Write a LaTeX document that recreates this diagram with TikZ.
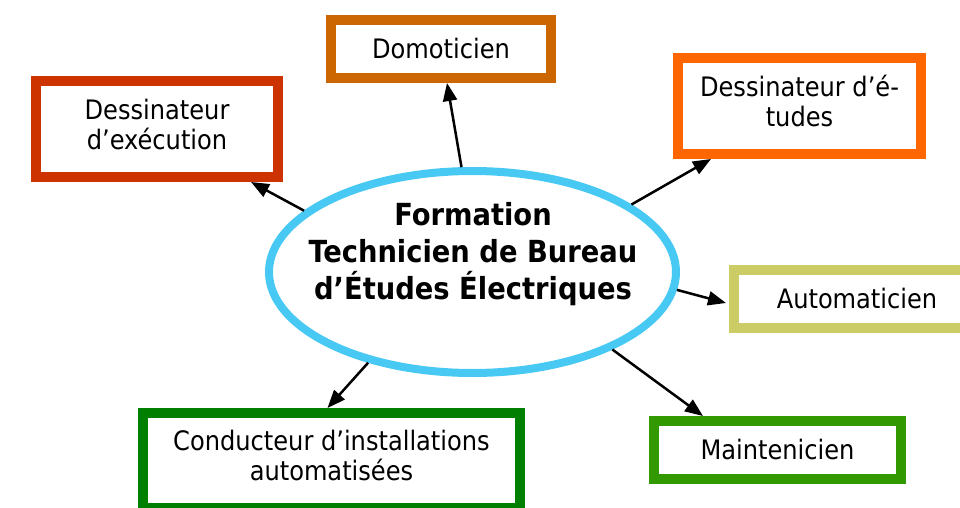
\documentclass[tikz,border=0pt]{standalone}
\usepackage{fontspec}
\setmainfont{DejaVu Sans Condensed}
\usetikzlibrary{shapes.geometric,arrows.meta,calc}
\definecolor{cEll}{HTML}{48C9F4}
\definecolor{cExe}{HTML}{CC3300}
\definecolor{cDom}{HTML}{CC6600}
\definecolor{cEtu}{HTML}{FF6600}
\definecolor{cAut}{HTML}{CCCC66}
\definecolor{cCon}{HTML}{007F00}
\definecolor{cMai}{HTML}{339900}
\begin{document}
\begin{tikzpicture}[x=1pt,y=-1pt,
  jobbox/.style={draw,line width=10pt,fill=white,inner sep=0pt,align=center,
    font=\fontsize{26.8}{30}\selectfont},
  twoline/.style={text depth=10pt},
  conn/.style={line width=2.5pt,-{Triangle[length=18pt,width=14pt]}}]
\useasboundingbox (0,0) rectangle (960,508);
\node[ellipse,draw=cEll,line width=8pt,minimum width=407pt,minimum height=202pt,inner sep=0pt] (ell) at (472.5,272) {};
\node[font=\fontsize{30.4}{36.7}\selectfont\bfseries,align=center] (ttl) at (473,254) {Formation\\Technicien de Bureau\\d’Études Électriques};
\node[jobbox,twoline,draw=cExe,minimum width=242pt,minimum height=96pt] (exe) at (157,129) {Dessinateur\\d’exécution};
\node[jobbox,draw=cDom,minimum width=220pt,minimum height=58pt] (dom) at (441,49) {Domoticien};
\node[jobbox,twoline,draw=cEtu,minimum width=243pt,minimum height=96pt] (etu) at (799.5,106) {Dessinateur d’é-\\tudes};
\node[jobbox,draw=cAut,minimum width=246pt,minimum height=58pt] (aut) at (857,299) {Automaticien};
\node[jobbox,twoline,draw=cCon,minimum width=377pt,minimum height=95pt] (con) at (331.5,460.5) {Conducteur d’installations\\automatisées};
\node[jobbox,draw=cMai,minimum width=247pt,minimum height=58pt] (mai) at (777.5,450) {Maintenicien};
\draw[conn] (ell.160.4) -- ($(exe.south)+(94,0)$);
\draw[conn] (ell.96) -- ($(dom.south)+(6,0)$);
\draw[conn] (ell.23.6) -- ($(etu.south west)+(38,0)$);
\draw[conn] (ell.-5.8) -- ($(aut.west)+(-3,4)$);
\draw[conn] (ell.221.9) -- ($(con.north)+(-4,0)$);
\draw[conn] (ell.-29.7) -- ($(mai.north west)+(54,0)$);
\end{tikzpicture}
\end{document}
